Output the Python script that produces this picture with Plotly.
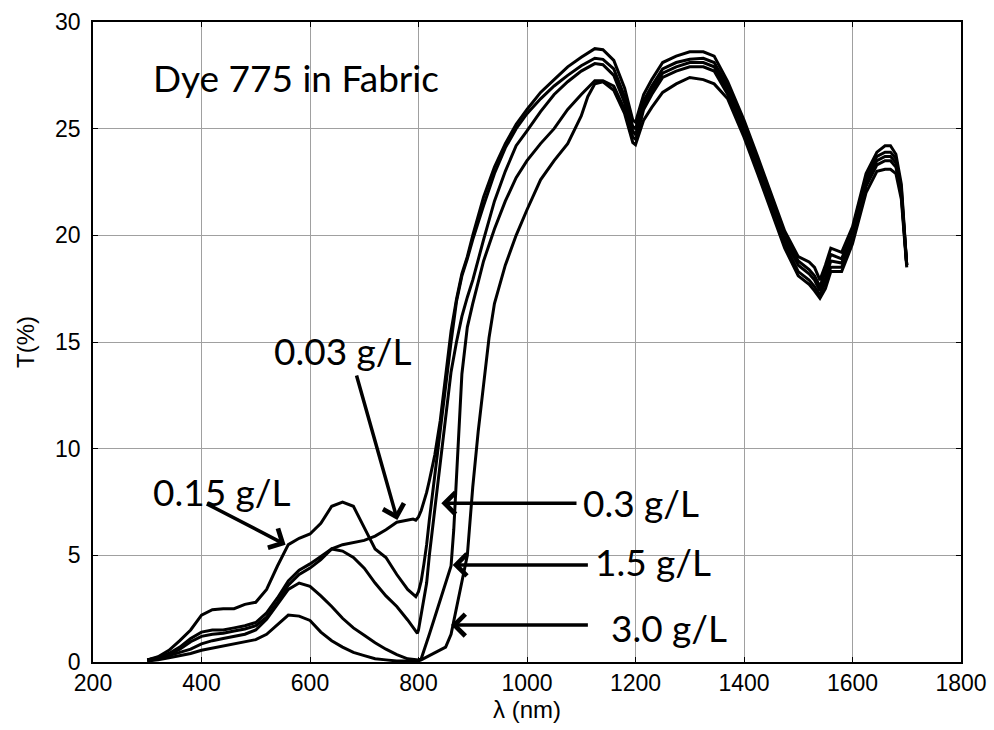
import plotly.graph_objects as go

# ---- data (wavelength nm, transmission %) ----
wl_003 = [300, 320, 340, 360, 380, 400, 420, 440, 460, 480, 500, 520, 540, 560, 580, 600, 620, 640, 660, 680, 700, 720, 740, 760, 780, 790, 795,
          800, 805, 810, 815, 820, 830, 840, 850, 860, 870, 880, 890, 900, 920, 940, 960, 980, 1000, 1025, 1050, 1075, 1100,
          1125, 1140, 1160, 1180, 1195, 1200, 1205, 1215, 1230, 1250, 1275, 1300, 1325, 1345, 1370, 1400, 1425, 1450, 1475, 1500,
          1520, 1530, 1540, 1550, 1560, 1580, 1600, 1625, 1645, 1660, 1670, 1680, 1690, 1700]
t_003 = [0.1, 0.2, 0.4, 0.7, 1.1, 1.4, 1.5, 1.5, 1.6, 1.7, 1.85, 2.3, 3.0, 3.8, 4.3, 4.6, 4.95, 5.3, 5.5, 5.6, 5.7, 5.9, 6.2, 6.55, 6.66, 6.7, 6.65,
         6.8, 7.1, 7.5, 7.95, 8.5, 9.7, 11.3, 13.5, 15.5, 17.0, 18.2, 19.0, 20.0, 21.8, 23.2, 24.3, 25.2, 25.9, 26.7, 27.3, 27.9, 28.35,
         28.75, 28.7, 28.2, 26.9, 25.4, 25.3, 25.7, 26.6, 27.3, 28.1, 28.4, 28.6, 28.6, 28.4, 27.2, 25.4, 23.7, 21.9, 20.2, 19.0,
         18.75, 18.5, 17.9, 18.6, 19.4, 19.2, 20.4, 22.9, 23.9, 24.2, 24.2, 23.8, 22.4, 18.6]

wl_015 = [300, 320, 340, 360, 380, 400, 420, 440, 460, 480, 500, 520, 540, 560, 580, 600, 620, 640, 660, 680, 700, 720, 740, 760, 780, 795,
          800, 805, 810, 815, 820, 830, 840, 850, 860, 870, 880, 890, 900, 920, 940, 960, 980, 1000, 1025, 1050, 1075, 1100,
          1125, 1140, 1160, 1180, 1195, 1200, 1205, 1215, 1230, 1250, 1275, 1300, 1325, 1345, 1370, 1400, 1425, 1450, 1475, 1500,
          1520, 1530, 1540, 1550, 1560, 1580, 1600, 1625, 1645, 1660, 1670, 1680, 1690, 1700]
t_015 = [0.1, 0.25, 0.55, 1.0, 1.5, 2.2, 2.45, 2.5, 2.5, 2.7, 2.8, 3.4, 4.5, 5.5, 5.8, 6.0, 6.5, 7.3, 7.5, 7.3, 6.3, 5.3, 4.9, 4.1, 3.4, 3.06,
         3.3, 3.8, 4.6, 5.5, 6.66, 8.8, 11.0, 13.0, 15.0, 16.9, 18.1, 18.9, 19.8, 21.4, 22.9, 24.1, 25.0, 25.7, 26.4, 27.0, 27.5, 27.95,
         28.3, 28.25, 27.8, 26.5, 25.1, 25.0, 25.4, 26.3, 27.0, 27.8, 28.1, 28.25, 28.3, 28.1, 27.0, 25.2, 23.5, 21.7, 20.0, 18.8,
         18.4, 18.1, 17.6, 18.3, 19.1, 18.9, 20.2, 22.7, 23.7, 23.9, 23.9, 23.6, 22.2, 18.6]

wl_03 = [300, 320, 340, 360, 380, 400, 420, 440, 460, 480, 500, 520, 540, 560, 580, 600, 620, 640, 660, 680, 700, 720, 740, 760, 780, 798,
         800, 805, 810, 815, 820, 830, 840, 850, 860, 870, 880, 890, 900, 920, 940, 960, 980, 1000, 1025, 1050, 1075, 1100,
         1125, 1140, 1160, 1180, 1195, 1200, 1205, 1215, 1230, 1250, 1275, 1300, 1325, 1345, 1370, 1400, 1425, 1450, 1475, 1500,
         1520, 1530, 1540, 1550, 1560, 1580, 1600, 1625, 1645, 1660, 1670, 1680, 1690, 1700]
t_03 = [0.1, 0.2, 0.35, 0.6, 0.95, 1.2, 1.3, 1.35, 1.45, 1.55, 1.7, 2.1, 2.8, 3.6, 4.1, 4.4, 4.8, 5.3, 5.2, 4.9, 4.4, 3.7, 3.1, 2.6, 1.97, 1.34,
        1.5, 2.2, 2.9, 3.7, 5.0, 7.2, 9.4, 11.6, 13.6, 15.0, 16.2, 17.1, 17.9, 19.8, 21.6, 23.0, 24.2, 24.9, 25.8, 26.6, 27.2, 27.7,
        28.05, 28.0, 27.5, 26.2, 24.9, 24.7, 25.1, 26.1, 26.8, 27.6, 27.9, 28.1, 28.1, 27.9, 26.8, 25.0, 23.3, 21.5, 19.8, 18.6,
        18.2, 17.9, 17.4, 18.0, 18.8, 18.7, 20.0, 22.5, 23.5, 23.7, 23.7, 23.4, 22.0, 18.6]

wl_15 = [300, 320, 340, 360, 380, 400, 420, 440, 460, 480, 500, 520, 540, 560, 580, 600, 620, 640, 660, 680, 700, 720, 740, 760, 780,
         800, 805, 810, 820, 830, 840, 850, 860, 865, 870, 875, 880, 890, 900, 920, 940, 960, 980, 1000, 1025, 1050, 1075, 1100,
         1125, 1140, 1160, 1180, 1195, 1200, 1205, 1215, 1230, 1250, 1275, 1300, 1325, 1345, 1370, 1400, 1425, 1450, 1475, 1500,
         1520, 1530, 1540, 1550, 1560, 1580, 1600, 1625, 1645, 1660, 1670, 1680, 1690, 1700]
t_15 = [0.05, 0.15, 0.3, 0.45, 0.6, 0.85, 1.0, 1.1, 1.2, 1.3, 1.5, 2.0, 2.7, 3.4, 3.7, 3.55, 3.1, 2.6, 2.05, 1.6, 1.25, 0.9, 0.6, 0.35, 0.15,
        0.1, 0.15, 0.5, 1.3, 2.1, 2.9, 3.7, 4.5, 6.2, 8.8, 11.5, 13.5, 15.7, 16.8, 18.8, 20.3, 21.6, 22.7, 23.5, 24.3, 25.0, 25.9, 26.6,
        27.25, 27.25, 27.0, 25.9, 24.6, 24.5, 24.9, 25.9, 26.6, 27.4, 27.7, 27.9, 27.9, 27.7, 26.6, 24.8, 23.1, 21.3, 19.6, 18.3,
        17.9, 17.6, 17.2, 17.8, 18.5, 18.5, 19.8, 22.3, 23.3, 23.5, 23.5, 23.2, 21.9, 18.6]

wl_30 = [300, 320, 340, 360, 380, 400, 420, 440, 460, 480, 500, 520, 540, 560, 580, 600, 620, 640, 660, 680, 700, 720, 740, 760, 780,
         800, 805, 820, 840, 850, 860, 870, 880, 890, 900, 910, 920, 930, 940, 960, 980, 1000, 1025, 1050, 1075, 1100, 1112,
         1125, 1140, 1160, 1180, 1195, 1200, 1205, 1215, 1230, 1250, 1275, 1300, 1325, 1345, 1370, 1400, 1425, 1450, 1475, 1500,
         1520, 1530, 1540, 1550, 1560, 1580, 1600, 1625, 1645, 1660, 1670, 1680, 1690, 1700]
t_30 = [0.05, 0.1, 0.2, 0.3, 0.4, 0.55, 0.65, 0.75, 0.85, 0.95, 1.05, 1.3, 1.75, 2.2, 2.15, 1.95, 1.4, 1.0, 0.7, 0.45, 0.3, 0.15, 0.1, 0.05, 0.05,
        0.05, 0.1, 0.3, 0.55, 0.7, 1.3, 2.5, 3.8, 5.0, 8.2, 10.8, 13.0, 15.2, 16.8, 18.6, 20.0, 21.2, 22.6, 23.5, 24.3, 25.6, 26.5,
        27.1, 27.2, 26.8, 25.7, 24.35, 24.25, 24.6, 25.4, 26.0, 26.7, 27.1, 27.4, 27.3, 27.1, 26.4, 24.6, 22.9, 21.1, 19.4, 18.1,
        17.7, 17.4, 17.05, 17.5, 18.3, 18.3, 19.6, 22.0, 23.0, 23.1, 23.1, 22.9, 21.7, 18.5]

series = [(wl_003, t_003, "0.03 g/L"), (wl_015, t_015, "0.15 g/L"), (wl_03, t_03, "0.3 g/L"),
          (wl_15, t_15, "1.5 g/L"), (wl_30, t_30, "3.0 g/L")]

x_ticks = [200, 400, 600, 800, 1000, 1200, 1400, 1600, 1800]
y_ticks = [0, 5, 10, 15, 20, 25, 30]

fig = go.Figure()
for wl, t, name in series:
    fig.add_trace(go.Scatter(x=wl, y=t, mode="lines", name=name,
                             line=dict(color="black", width=3), showlegend=False))

tick_font = dict(family="Liberation Sans, Arial", size=23, color="black")
title_font = dict(family="Liberation Sans, Arial", size=24, color="black")
axis_common = dict(showline=True, linecolor="black", linewidth=1.5, mirror="ticks",
                   ticks="inside", ticklen=5, tickcolor="black",
                   showgrid=True, gridcolor="#a0a0a0", gridwidth=1, zeroline=False,
                   tickfont=tick_font, automargin=False)

fig.update_xaxes(range=[200, 1800], tickvals=x_ticks, ticklabelstandoff=0,
                 title=dict(text="λ (nm)", font=title_font, standoff=4),
                 **axis_common)
fig.update_yaxes(range=[0, 30], tickvals=y_ticks, ticklabelstandoff=6,
                 title=dict(text="T(%)", font=title_font, standoff=14),
                 **axis_common)

label_font = dict(family="Lato, Open Sans", size=37, color="black")

# text labels
texts = [("Dye 775 in Fabric", 574, 27.4), ("0.15 g/L", 437, 8.0), ("0.03 g/L", 661, 14.6),
         ("0.3 g/L", 1211, 7.5), ("1.5 g/L", 1233, 4.7), ("3.0 g/L", 1261, 1.6)]
for txt, x, y in texts:
    fig.add_annotation(x=x, y=y, xref="x", yref="y", text=txt, showarrow=False, font=label_font)

# arrows: (tip_x, tip_y, tail_x, tail_y)
arrows = [(555, 5.5, 407, 7.45), (761, 6.66, 685, 13.5), (842, 7.44, 1094, 7.44),
          (863, 4.55, 1115, 4.55), (860, 1.73, 1115, 1.73)]
for x, y, ax, ay in arrows:
    fig.add_annotation(x=x, y=y, ax=ax, ay=ay, xref="x", yref="y", axref="x", ayref="y",
                       text="", showarrow=True, arrowhead=4, arrowsize=1.2, arrowwidth=3.5,
                       arrowcolor="black")

fig.update_layout(width=994, height=730, margin=dict(l=93, r=33, t=22, b=68),
                  paper_bgcolor="white", plot_bgcolor="white")

fig.write_html("out.html")
